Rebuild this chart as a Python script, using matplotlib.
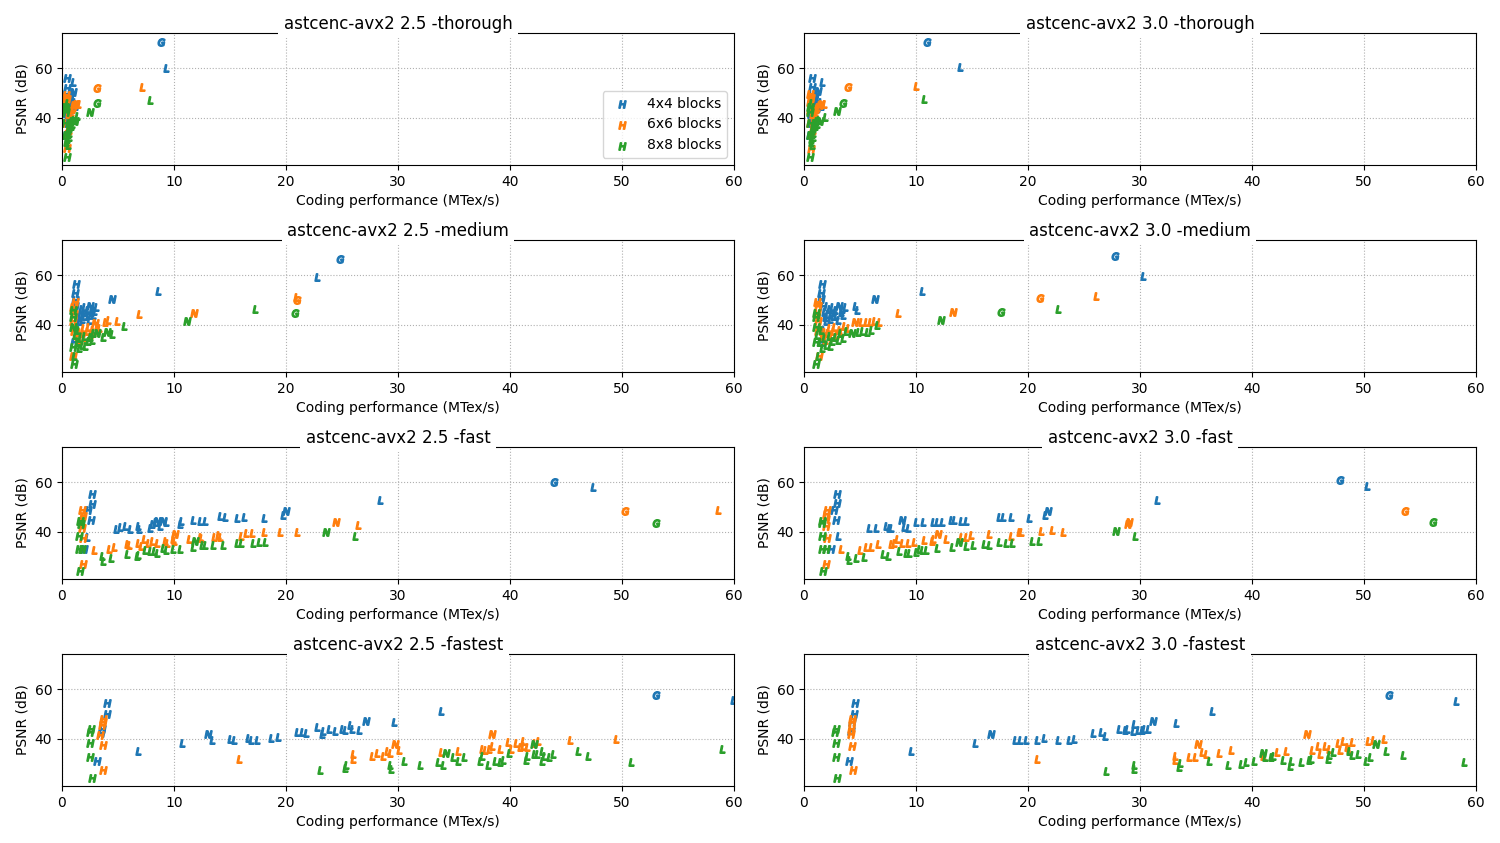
import matplotlib
matplotlib.use("Agg")
import matplotlib.pyplot as plt

# each point: (coding performance MTex/s, PSNR dB, image type letter)

thorough25_4x4 = [
    (0.48, 56.2, "H"), (1.0, 54.6, "L"), (0.48, 52.1, "H"), (0.95, 50.3, "N"),
    (0.4, 49.5, "H"), (0.6, 47.5, "L"), (0.7, 46.0, "L"), (0.9, 45.0, "L"),
    (1.0, 47.8, "L"), (0.8, 43.5, "L"), (0.5, 44.5, "L"), (1.1, 46.2, "L"),
    (0.65, 48.5, "N"), (0.3, 42.0, "L"), (0.35, 33.0, "H"), (0.45, 38.0, "L"),
    (0.5, 41.5, "H"), (0.7, 42.5, "L"), (0.9, 44.0, "L"), (0.6, 45.5, "L"),
    (1.2, 44.8, "L"), (8.87, 70.7, "G"), (9.29, 60.1, "L"),
]
thorough25_6x6 = [
    (0.36, 49.3, "H"), (0.45, 47.5, "H"), (0.3, 46.0, "H"), (0.4, 43.0, "H"),
    (0.35, 38.0, "H"), (0.42, 27.9, "H"), (0.5, 36.0, "L"), (0.6, 38.5, "L"),
    (0.7, 40.0, "L"), (0.55, 41.5, "L"), (0.8, 42.5, "L"), (0.65, 35.0, "L"),
    (0.9, 43.5, "L"), (1.0, 44.5, "L"), (0.75, 37.5, "L"), (0.4, 33.5, "L"),
    (0.5, 34.5, "L"), (0.85, 41.0, "L"), (1.1, 45.0, "N"), (1.25, 45.6, "N"),
    (1.45, 45.6, "L"), (3.15, 52.1, "G"), (7.17, 52.4, "L"),
]
thorough25_8x8 = [
    (0.3, 44.5, "H"), (0.35, 42.5, "H"), (0.3, 38.0, "H"), (0.35, 33.0, "H"),
    (0.42, 24.2, "H"), (0.4, 30.0, "L"), (0.45, 31.5, "L"), (0.5, 33.5, "L"),
    (0.55, 35.0, "L"), (0.6, 36.0, "L"), (0.65, 34.0, "L"), (0.7, 37.0, "L"),
    (0.75, 38.0, "L"), (0.8, 36.5, "L"), (0.85, 38.5, "L"), (0.9, 37.5, "L"),
    (1.0, 39.0, "L"), (0.5, 29.0, "L"), (0.6, 32.0, "L"), (0.45, 46.0, "L"),
    (1.2, 38.5, "N"), (1.37, 40.5, "L"), (2.5, 42.2, "N"), (3.1, 45.8, "G"),
    (7.9, 47.3, "L"),
]

thorough30_4x4 = [
    (0.68, 56.2, "H"), (1.64, 54.4, "L"), (0.68, 52.4, "H"), (1.28, 50.6, "N"),
    (0.6, 49.5, "H"), (0.8, 47.5, "L"), (1.0, 46.0, "L"), (1.2, 45.0, "L"),
    (1.3, 47.8, "L"), (1.1, 43.5, "L"), (0.7, 44.5, "L"), (1.4, 46.2, "L"),
    (0.9, 48.5, "N"), (0.5, 42.0, "L"), (0.5, 33.0, "H"), (0.6, 38.0, "L"),
    (0.6, 41.5, "H"), (0.9, 42.5, "L"), (1.2, 44.0, "L"), (0.8, 45.5, "L"),
    (1.5, 44.8, "L"), (11.0, 70.7, "G"), (13.9, 60.5, "L"),
]
thorough30_6x6 = [
    (0.5, 49.5, "H"), (0.6, 48.0, "H"), (0.5, 46.5, "H"), (0.55, 43.0, "H"),
    (0.5, 38.0, "H"), (0.6, 27.5, "H"), (0.7, 36.0, "L"), (0.8, 38.5, "L"),
    (0.9, 40.0, "L"), (0.75, 41.5, "L"), (1.0, 42.5, "L"), (0.85, 35.0, "L"),
    (1.1, 43.5, "L"), (1.2, 44.5, "L"), (0.95, 37.5, "L"), (0.6, 33.5, "L"),
    (0.7, 34.5, "L"), (1.05, 41.0, "L"), (1.4, 45.0, "N"), (1.55, 45.6, "N"),
    (1.8, 45.4, "L"), (3.97, 52.5, "G"), (10.05, 52.8, "L"),
]
thorough30_8x8 = [
    (0.5, 44.5, "H"), (0.55, 42.5, "H"), (0.5, 38.0, "H"), (0.55, 33.0, "H"),
    (0.5, 24.1, "H"), (0.6, 30.0, "L"), (0.65, 31.5, "L"), (0.7, 33.5, "L"),
    (0.75, 35.0, "L"), (0.8, 36.0, "L"), (0.85, 34.0, "L"), (0.9, 37.0, "L"),
    (0.95, 38.0, "L"), (1.0, 36.5, "L"), (1.1, 38.5, "L"), (1.15, 37.5, "L"),
    (1.3, 39.0, "L"), (0.7, 29.0, "L"), (0.8, 32.0, "L"), (0.6, 46.0, "L"),
    (1.4, 38.5, "N"), (1.85, 40.3, "L"), (2.98, 42.6, "N"), (3.5, 46.1, "G"),
    (10.7, 47.7, "L"),
]

medium25_4x4 = [
    (1.25, 56.3, "H"), (1.16, 52.7, "H"), (1.16, 50.0, "H"), (1.2, 47.5, "H"),
    (1.3, 45.5, "L"), (1.4, 43.0, "L"), (1.5, 41.5, "L"), (1.6, 44.5, "L"),
    (1.7, 46.5, "L"), (1.8, 42.5, "L"), (1.9, 45.0, "L"), (2.0, 47.0, "L"),
    (2.0, 43.5, "L"), (2.2, 46.0, "L"), (2.3, 44.0, "L"), (2.4, 42.0, "L"),
    (2.5, 47.5, "N"), (2.6, 45.0, "L"), (2.7, 46.5, "L"), (2.8, 44.0, "L"),
    (2.9, 45.5, "L"), (3.0, 47.0, "L"), (1.1, 33.0, "H"), (1.3, 38.0, "L"),
    (4.44, 50.2, "N"), (8.6, 53.8, "L"), (22.8, 59.2, "L"), (24.8, 66.6, "G"),
]
medium25_6x6 = [
    (1.13, 49.2, "H"), (1.0, 47.2, "H"), (1.05, 44.5, "H"), (1.0, 41.5, "H"),
    (1.05, 37.5, "H"), (1.0, 27.5, "H"), (1.3, 35.5, "L"), (1.5, 37.0, "L"),
    (1.6, 34.0, "L"), (1.8, 36.5, "L"), (1.9, 38.5, "L"), (2.0, 35.0, "L"),
    (2.2, 37.5, "L"), (2.3, 39.0, "L"), (2.5, 36.0, "L"), (2.7, 38.0, "L"),
    (2.8, 37.0, "L"), (3.1, 39.5, "L"), (3.3, 38.5, "L"), (2.95, 40.7, "N"),
    (3.85, 41.1, "L"), (4.15, 41.8, "L"), (4.95, 41.5, "L"), (6.9, 44.2, "L"),
    (11.8, 44.9, "N"), (21.0, 49.8, "G"), (20.9, 51.2, "L"),
]
medium25_8x8 = [
    (1.0, 45.8, "H"), (1.0, 43.1, "H"), (1.0, 39.0, "N"), (0.95, 30.8, "H"),
    (1.04, 24.3, "H"), (1.3, 33.0, "L"), (1.5, 30.5, "L"), (1.6, 34.5, "L"),
    (1.8, 32.0, "L"), (2.0, 35.5, "L"), (2.1, 31.5, "L"), (2.3, 33.5, "L"),
    (2.5, 35.0, "L"), (2.7, 34.0, "L"), (2.8, 36.5, "L"), (1.2, 36.0, "L"),
    (1.4, 38.0, "L"), (1.1, 27.5, "L"), (3.1, 36.6, "N"), (3.64, 35.2, "L"),
    (4.0, 37.0, "N"), (4.5, 36.3, "L"), (5.5, 39.3, "L"), (11.2, 41.5, "N"),
    (17.2, 46.3, "L"), (20.8, 44.7, "G"),
]

medium30_4x4 = [
    (1.64, 56.3, "H"), (1.55, 52.9, "H"), (1.49, 50.2, "H"), (1.7, 47.5, "H"),
    (1.8, 45.0, "L"), (1.9, 43.0, "L"), (2.0, 41.5, "L"), (2.1, 44.5, "L"),
    (2.2, 46.5, "L"), (2.3, 42.5, "L"), (2.4, 45.0, "L"), (2.5, 47.0, "L"),
    (2.6, 43.5, "L"), (2.8, 46.0, "L"), (2.9, 44.0, "L"), (3.0, 42.0, "L"),
    (3.1, 47.5, "N"), (3.3, 45.0, "L"), (3.4, 46.5, "L"), (3.5, 44.0, "L"),
    (3.7, 47.0, "L"), (1.5, 33.0, "H"), (1.7, 38.0, "L"), (4.56, 47.5, "L"),
    (4.77, 45.9, "L"), (6.35, 50.2, "N"), (10.5, 53.7, "L"), (27.8, 67.9, "G"),
    (30.3, 59.7, "L"),
]
medium30_6x6 = [
    (1.2, 49.2, "H"), (1.25, 47.5, "H"), (1.2, 44.5, "H"), (1.3, 41.5, "H"),
    (1.3, 37.5, "H"), (1.35, 27.5, "H"), (1.6, 35.5, "L"), (1.8, 37.0, "L"),
    (1.9, 34.0, "L"), (2.1, 36.5, "L"), (2.2, 38.5, "L"), (2.4, 35.0, "L"),
    (2.6, 37.5, "L"), (2.7, 39.0, "L"), (2.9, 36.0, "L"), (3.1, 38.0, "L"),
    (3.3, 37.0, "L"), (3.6, 39.5, "L"), (3.9, 38.5, "L"), (4.56, 41.1, "N"),
    (5.1, 41.1, "L"), (5.5, 41.3, "L"), (5.9, 41.2, "L"), (6.3, 41.4, "L"),
    (6.7, 41.3, "L"), (8.44, 44.8, "L"), (13.3, 45.2, "N"), (21.1, 51.0, "G"),
    (26.1, 51.5, "L"),
]
medium30_8x8 = [
    (1.04, 44.7, "H"), (1.1, 43.0, "H"), (1.04, 39.2, "H"), (1.1, 33.0, "H"),
    (1.04, 24.3, "H"), (1.4, 33.0, "L"), (1.6, 30.5, "L"), (1.8, 34.5, "L"),
    (2.0, 32.0, "L"), (2.2, 35.5, "L"), (2.3, 31.5, "L"), (2.5, 33.5, "L"),
    (2.8, 35.0, "L"), (3.0, 34.0, "L"), (3.2, 36.5, "L"), (3.5, 34.5, "L"),
    (3.8, 37.5, "L"), (1.2, 36.0, "L"), (1.5, 38.0, "L"), (1.3, 27.5, "L"),
    (4.3, 36.5, "N"), (4.8, 37.0, "L"), (5.2, 37.5, "L"), (5.6, 37.2, "L"),
    (6.0, 37.8, "L"), (6.56, 39.8, "L"), (12.2, 42.0, "N"), (17.6, 45.3, "G"),
    (22.65, 46.4, "L"),
]

fast25_4x4 = [
    (2.65, 55.4, "H"), (2.65, 51.3, "H"), (2.3, 48.6, "H"), (2.56, 44.8, "H"),
    (2.2, 37.7, "L"), (2.0, 32.9, "H"), (4.8, 41.1, "L"), (5.2, 41.8, "L"),
    (5.6, 42.4, "L"), (6.1, 41.1, "L"), (6.8, 42.4, "L"), (6.9, 41.1, "L"),
    (7.9, 41.5, "L"), (8.0, 43.1, "L"), (8.3, 43.8, "L"), (8.45, 44.5, "N"),
    (8.75, 42.4, "L"), (9.0, 44.2, "N"), (9.3, 43.8, "L"), (10.6, 44.5, "L"),
    (10.5, 43.1, "L"), (11.7, 44.9, "L"), (12.3, 44.2, "L"), (12.8, 44.2, "L"),
    (14.1, 46.2, "L"), (14.6, 46.1, "L"), (15.6, 45.6, "L"), (16.25, 46.1, "L"),
    (18.0, 45.6, "L"), (19.7, 46.9, "L"), (20.0, 48.2, "N"), (28.4, 52.7, "L"),
    (43.9, 60.3, "G"), (47.4, 58.1, "L"),
]
fast25_6x6 = [
    (1.76, 48.6, "H"), (1.85, 46.5, "H"), (1.67, 44.5, "H"), (1.76, 41.5, "H"),
    (1.85, 37.4, "H"), (1.85, 26.8, "H"), (2.9, 32.5, "L"), (4.2, 32.9, "L"),
    (4.64, 33.9, "L"), (5.8, 35.0, "L"), (5.95, 34.8, "L"), (6.8, 35.6, "L"),
    (7.1, 34.3, "L"), (7.3, 37.0, "L"), (7.7, 35.6, "L"), (8.0, 36.3, "L"),
    (8.45, 35.6, "L"), (9.2, 36.3, "L"), (9.35, 35.6, "L"), (9.9, 37.0, "L"),
    (10.1, 39.1, "N"), (10.0, 36.3, "L"), (11.3, 37.0, "L"), (12.3, 37.7, "L"),
    (12.4, 37.4, "L"), (13.6, 38.0, "L"), (13.95, 38.8, "L"), (14.1, 38.0, "L"),
    (16.0, 38.4, "L"), (16.4, 39.3, "L"), (17.0, 39.3, "L"), (18.0, 40.1, "L"),
    (19.5, 40.1, "L"), (20.95, 40.1, "L"), (24.5, 43.8, "N"), (26.4, 42.9, "L"),
    (50.3, 48.2, "G"), (58.6, 48.9, "L"),
]
fast25_8x8 = [
    (1.6, 44.5, "H"), (1.7, 43.1, "H"), (1.55, 38.4, "H"), (1.5, 32.9, "H"),
    (1.75, 32.9, "H"), (1.6, 24.1, "H"), (3.54, 30.2, "L"), (3.63, 28.2, "L"),
    (4.35, 29.3, "L"), (5.83, 31.1, "L"), (6.67, 30.2, "L"), (6.8, 30.8, "L"),
    (7.4, 32.5, "L"), (7.9, 32.2, "L"), (8.2, 32.2, "L"), (8.45, 31.6, "L"),
    (9.05, 33.3, "L"), (9.3, 32.5, "L"), (9.9, 32.9, "L"), (10.5, 32.9, "L"),
    (11.9, 36.3, "N"), (11.7, 33.9, "L"), (12.5, 34.7, "L"), (12.8, 34.7, "L"),
    (13.5, 34.7, "L"), (14.4, 34.7, "L"), (15.6, 35.6, "L"), (16.0, 35.6, "L"),
    (17.1, 35.6, "L"), (17.6, 36.0, "L"), (18.1, 36.0, "L"), (23.6, 40.1, "N"),
    (26.2, 38.4, "L"), (53.0, 43.7, "G"),
]

fast30_4x4 = [
    (2.92, 55.4, "H"), (2.92, 51.6, "H"), (2.68, 48.9, "H"), (2.83, 44.8, "H"),
    (3.07, 38.4, "L"), (2.38, 32.9, "H"), (5.81, 41.5, "L"), (6.47, 41.5, "L"),
    (7.36, 42.4, "L"), (7.6, 41.5, "L"), (7.75, 41.4, "L"), (8.8, 44.9, "N"),
    (8.94, 42.0, "L"), (9.33, 41.5, "L"), (9.99, 44.1, "L"), (10.6, 44.1, "L"),
    (11.54, 44.1, "L"), (11.84, 43.8, "L"), (12.37, 44.1, "L"), (13.12, 44.8, "L"),
    (13.4, 44.8, "L"), (14.0, 44.2, "L"), (14.46, 44.5, "L"), (17.38, 46.1, "L"),
    (17.74, 46.1, "L"), (18.48, 46.1, "L"), (20.06, 45.6, "L"), (21.55, 46.9, "L"),
    (21.76, 48.2, "N"), (31.5, 52.7, "L"), (47.9, 60.8, "G"), (50.3, 58.4, "L"),
]
fast30_6x6 = [
    (2.03, 48.6, "H"), (1.94, 47.2, "H"), (1.94, 45.2, "H"), (2.0, 42.4, "H"),
    (2.09, 37.4, "H"), (2.0, 26.8, "H"), (3.28, 32.9, "L"), (5.01, 32.5, "L"),
    (5.58, 33.9, "L"), (5.96, 33.9, "L"), (6.65, 35.0, "L"), (7.75, 35.0, "L"),
    (8.05, 35.6, "L"), (8.35, 37.0, "L"), (8.79, 35.6, "L"), (9.33, 35.6, "L"),
    (9.84, 36.0, "L"), (10.73, 36.5, "L"), (11.42, 36.3, "L"), (11.54, 37.0, "L"),
    (12.0, 39.1, "N"), (12.67, 37.0, "L"), (14.0, 38.0, "L"), (14.46, 38.0, "L"),
    (14.9, 38.8, "L"), (16.55, 39.1, "L"), (18.48, 38.4, "L"), (19.23, 39.8, "L"),
    (19.38, 40.1, "L"), (21.17, 40.4, "L"), (22.15, 40.7, "L"), (23.11, 40.1, "L"),
    (29.0, 43.8, "N"), (28.9, 43.1, "N"), (53.7, 48.2, "G"),
]
fast30_8x8 = [
    (1.64, 44.5, "H"), (1.58, 43.4, "H"), (1.64, 38.4, "H"), (1.64, 32.9, "H"),
    (1.94, 32.9, "H"), (1.7, 24.3, "H"), (3.9, 30.2, "L"), (4.04, 28.4, "L"),
    (4.64, 29.5, "L"), (5.32, 29.8, "L"), (7.02, 31.1, "L"), (7.47, 30.2, "L"),
    (8.5, 32.2, "L"), (9.1, 31.6, "L"), (9.4, 31.6, "L"), (9.99, 32.0, "L"),
    (10.28, 32.9, "L"), (10.58, 32.5, "L"), (10.88, 32.5, "L"), (11.9, 33.3, "L"),
    (13.2, 33.9, "L"), (13.86, 36.0, "N"), (14.46, 34.3, "L"), (15.1, 34.7, "L"),
    (16.1, 35.0, "L"), (16.55, 34.7, "L"), (17.44, 36.0, "L"), (18.0, 35.6, "L"),
    (18.6, 35.6, "L"), (20.36, 36.3, "L"), (20.95, 36.3, "L"), (27.9, 40.4, "N"),
    (29.57, 38.4, "L"), (56.2, 44.1, "G"),
]

fastest25_4x4 = [
    (4.05, 54.3, "H"), (4.05, 50.2, "H"), (3.54, 44.1, "H"), (3.45, 42.5, "H"),
    (3.15, 31.1, "H"), (6.8, 35.2, "L"), (10.7, 38.2, "L"), (13.0, 42.0, "N"),
    (13.4, 39.5, "L"), (15.0, 39.9, "L"), (15.4, 39.5, "L"), (16.6, 40.3, "L"),
    (16.9, 39.5, "L"), (17.4, 39.5, "L"), (18.66, 40.3, "L"), (19.3, 40.8, "L"),
    (20.95, 42.6, "L"), (21.4, 42.6, "L"), (21.8, 42.2, "L"), (22.8, 44.6, "L"),
    (23.2, 41.9, "L"), (23.3, 43.3, "L"), (23.8, 44.0, "L"), (24.4, 43.3, "L"),
    (24.97, 44.0, "L"), (25.3, 43.6, "L"), (25.7, 45.4, "L"), (25.9, 44.0, "L"),
    (26.5, 43.6, "L"), (27.1, 47.0, "N"), (29.6, 46.7, "L"), (33.8, 51.2, "L"),
    (53.0, 57.6, "G"), (59.9, 55.6, "L"),
]
fastest25_6x6 = [
    (3.69, 48.2, "H"), (3.63, 46.8, "H"), (3.54, 45.5, "H"), (3.4, 41.4, "H"),
    (3.69, 37.4, "H"), (3.69, 27.2, "H"), (15.8, 31.7, "L"), (25.96, 33.9, "L"),
    (26.0, 31.7, "L"), (27.7, 33.1, "L"), (28.1, 34.4, "L"), (28.7, 33.1, "L"),
    (29.0, 35.2, "L"), (29.3, 34.1, "L"), (29.7, 37.8, "N"), (30.1, 35.5, "L"),
    (33.8, 34.5, "L"), (35.4, 34.9, "L"), (37.5, 35.9, "L"), (37.8, 35.5, "L"),
    (38.1, 35.9, "L"), (38.4, 37.1, "L"), (38.4, 42.0, "N"), (39.1, 35.9, "L"),
    (39.8, 38.6, "L"), (40.1, 35.9, "L"), (40.5, 38.2, "L"), (40.9, 36.6, "L"),
    (41.2, 39.0, "L"), (41.2, 36.9, "L"), (41.5, 36.6, "L"), (42.1, 38.2, "L"),
    (42.5, 39.3, "L"), (45.4, 39.6, "L"), (49.5, 40.0, "L"),
]
fastest25_8x8 = [
    (2.56, 44.1, "H"), (2.5, 42.7, "H"), (2.5, 38.2, "H"), (2.5, 32.5, "H"),
    (2.65, 24.1, "H"), (23.04, 27.2, "L"), (25.27, 28.3, "L"), (25.4, 29.6, "L"),
    (29.3, 29.6, "L"), (29.4, 27.9, "L"), (30.5, 31.0, "L"), (32.0, 29.6, "L"),
    (33.6, 30.6, "L"), (34.05, 29.6, "L"), (34.3, 34.2, "N"), (34.95, 32.5, "L"),
    (35.4, 31.2, "L"), (35.9, 32.8, "L"), (37.3, 31.2, "L"), (37.5, 33.2, "L"),
    (38.0, 29.2, "L"), (38.7, 31.2, "L"), (39.1, 30.6, "L"), (39.4, 31.5, "L"),
    (39.9, 34.2, "L"), (41.4, 31.5, "L"), (41.5, 33.2, "L"), (42.1, 37.7, "N"),
    (42.1, 33.9, "L"), (42.4, 33.9, "L"), (42.9, 35.2, "L"), (42.9, 30.9, "L"),
    (43.0, 33.2, "L"), (43.5, 32.8, "L"), (43.8, 33.9, "L"), (46.1, 35.2, "L"),
    (47.0, 33.2, "L"), (50.8, 30.6, "L"), (58.9, 35.9, "L"),
]

fastest30_4x4 = [
    (4.53, 54.3, "H"), (4.47, 50.2, "H"), (4.26, 46.8, "H"), (4.2, 43.3, "H"),
    (4.02, 31.1, "H"), (9.6, 35.2, "L"), (15.27, 38.2, "L"), (16.7, 42.0, "N"),
    (18.8, 39.6, "L"), (19.3, 39.6, "L"), (19.8, 39.6, "L"), (20.8, 39.6, "L"),
    (21.4, 40.4, "L"), (22.66, 39.6, "L"), (23.7, 39.6, "L"), (24.15, 40.0, "L"),
    (25.8, 42.3, "L"), (26.5, 42.7, "L"), (26.9, 41.3, "L"), (28.1, 44.1, "L"),
    (28.7, 43.6, "L"), (28.8, 44.1, "L"), (29.4, 43.1, "L"), (29.5, 45.8, "L"),
    (29.8, 43.6, "L"), (30.2, 43.6, "L"), (30.4, 44.1, "L"), (30.7, 44.1, "L"),
    (31.2, 47.0, "N"), (33.2, 46.4, "L"), (36.4, 51.3, "L"), (52.2, 57.6, "G"),
    (58.2, 55.3, "L"),
]
fastest30_6x6 = [
    (4.32, 48.2, "H"), (4.32, 46.8, "H"), (4.23, 44.1, "H"), (4.2, 41.8, "H"),
    (4.32, 37.0, "H"), (4.41, 27.2, "H"), (20.8, 31.7, "L"), (33.1, 33.2, "L"),
    (33.1, 31.5, "L"), (35.2, 37.7, "N"), (34.4, 32.5, "L"), (34.95, 32.5, "L"),
    (35.5, 34.5, "L"), (35.9, 33.9, "L"), (37.1, 34.2, "L"), (38.1, 35.5, "L"),
    (41.0, 33.2, "L"), (42.2, 34.5, "L"), (43.0, 34.9, "L"), (44.9, 42.0, "N"),
    (45.4, 35.5, "L"), (45.9, 37.2, "L"), (46.1, 33.9, "L"), (46.5, 37.2, "L"),
    (46.9, 35.9, "L"), (47.7, 38.2, "L"), (48.1, 39.3, "L"), (47.9, 35.5, "L"),
    (48.45, 36.6, "L"), (48.9, 38.6, "L"), (48.7, 35.9, "L"), (50.4, 39.3, "L"),
    (50.8, 39.6, "L"), (51.8, 40.0, "L"),
]
fastest30_8x8 = [
    (2.83, 44.1, "H"), (2.77, 42.7, "H"), (2.83, 38.2, "H"), (2.83, 32.8, "H"),
    (2.92, 24.1, "H"), (26.98, 27.0, "L"), (29.5, 27.9, "L"), (29.5, 29.2, "L"),
    (33.5, 28.6, "L"), (33.6, 30.2, "L"), (36.2, 31.0, "L"), (37.9, 29.6, "L"),
    (39.0, 29.9, "L"), (39.5, 30.6, "L"), (40.2, 31.0, "L"), (41.0, 34.2, "N"),
    (41.2, 32.8, "L"), (41.7, 32.5, "L"), (41.9, 33.2, "L"), (42.8, 31.5, "L"),
    (43.4, 28.8, "L"), (43.5, 31.0, "L"), (44.4, 30.6, "L"), (45.1, 31.5, "L"),
    (45.3, 31.9, "L"), (46.8, 31.9, "L"), (46.9, 33.6, "L"), (47.2, 34.5, "L"),
    (48.7, 35.2, "L"), (48.9, 33.6, "L"), (49.5, 33.9, "L"), (50.2, 31.0, "L"),
    (50.5, 32.8, "L"), (51.1, 37.7, "N"), (52.0, 35.2, "L"), (53.5, 33.6, "L"),
    (58.9, 30.6, "L"),
]

block_labels = ["4x4 blocks", "6x6 blocks", "8x8 blocks"]
colors = ["#1f77b4", "#ff7f0e", "#2ca02c"]

panels = [
    ["astcenc-avx2 2.5 -thorough", [thorough25_4x4, thorough25_6x6, thorough25_8x8]],
    ["astcenc-avx2 3.0 -thorough", [thorough30_4x4, thorough30_6x6, thorough30_8x8]],
    ["astcenc-avx2 2.5 -medium", [medium25_4x4, medium25_6x6, medium25_8x8]],
    ["astcenc-avx2 3.0 -medium", [medium30_4x4, medium30_6x6, medium30_8x8]],
    ["astcenc-avx2 2.5 -fast", [fast25_4x4, fast25_6x6, fast25_8x8]],
    ["astcenc-avx2 3.0 -fast", [fast30_4x4, fast30_6x6, fast30_8x8]],
    ["astcenc-avx2 2.5 -fastest", [fastest25_4x4, fastest25_6x6, fastest25_8x8]],
    ["astcenc-avx2 3.0 -fastest", [fastest30_4x4, fastest30_6x6, fastest30_8x8]],
]

fig, axes = plt.subplots(4, 2, figsize=(15, 8.43), dpi=100)
fig.subplots_adjust(left=0.0413, right=0.984, top=0.961, bottom=0.0676,
                    wspace=0.104, hspace=0.568)

for ax, (title, series) in zip(axes.flat, panels):
    for pts, col in zip(series, colors):
        for letter in "HLNG":
            xs = [p[0] for p in pts if p[2] == letter]
            ys = [p[1] for p in pts if p[2] == letter]
            if xs:
                ax.scatter(xs, ys, marker="$" + letter + "$", color=col,
                           s=26, linewidths=1.3)
    ax.set_xlim(0, 60)
    ax.set_ylim(20.9, 74.3)
    ax.set_yticks([40, 60])
    ax.grid(True, linestyle=":", color="#b0b0b0")
    ax.set_axisbelow(True)
    ax.set_xlabel("Coding performance (MTex/s)")
    ax.set_ylabel("PSNR (dB)")
    ax.set_title(title, fontsize=12, pad=3,
                 bbox=dict(facecolor="white", edgecolor="none", pad=4))

ax0 = axes[0, 0]
handles = [ax0.scatter([], [], marker="$H$", color=c, s=26, linewidths=1.3)
           for c in colors]
ax0.legend(handles, block_labels, loc="lower right", scatterpoints=1)

fig.savefig("out.png", dpi=100)
